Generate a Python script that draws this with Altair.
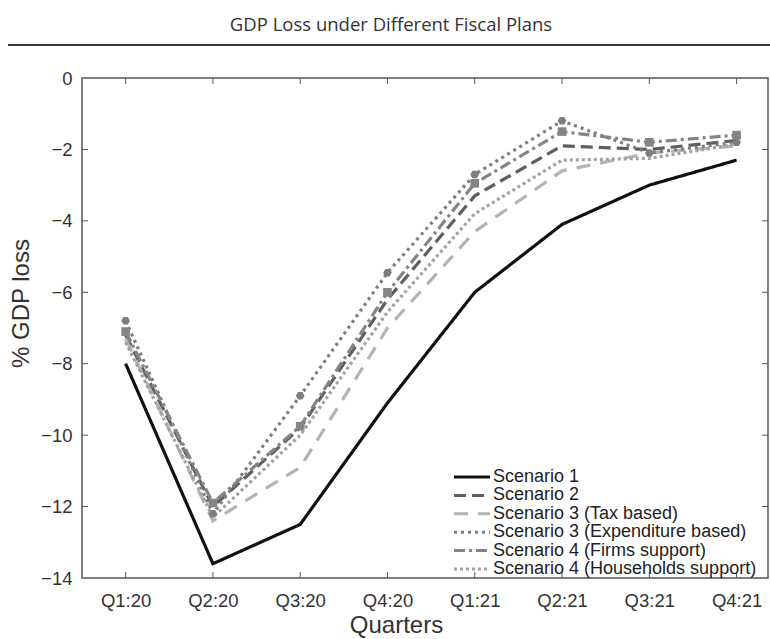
import altair as alt
import pandas as pd

# Quarter labels and the six fiscal scenarios (% GDP loss per quarter)
quarters = ["Q1:20", "Q2:20", "Q3:20", "Q4:20", "Q1:21", "Q2:21", "Q3:21", "Q4:21"]
series_names = [
    "Scenario 1",
    "Scenario 2",
    "Scenario 3 (Tax based)",
    "Scenario 3 (Expenditure based)",
    "Scenario 4 (Firms support)",
    "Scenario 4 (Households support)",
]
scenario_1 = [-8.0, -13.6, -12.5, -9.1, -6.0, -4.1, -3.0, -2.3]
scenario_2 = [-7.2, -12.0, -9.8, -6.2, -3.3, -1.9, -2.0, -1.75]
scenario_3_tax = [-7.3, -12.4, -10.9, -7.0, -4.3, -2.6, -2.1, -1.9]
scenario_3_exp = [-6.8, -12.2, -8.9, -5.45, -2.7, -1.2, -2.1, -1.8]
scenario_4_firms = [-7.1, -11.9, -9.75, -6.0, -2.95, -1.5, -1.8, -1.6]
scenario_4_households = [-7.4, -12.3, -10.0, -6.55, -3.8, -2.3, -2.25, -1.85]

y_ticks = [-14, -12, -10, -8, -6, -4, -2, 0]

colors = ["#111111", "#5e5e5e", "#b4b4b4", "#7e7e7e", "#858585", "#a2a2a2"]
dashes = [[1, 0], [12, 6], [14, 10], [3, 4], [11, 4, 3, 4], [3, 3]]

all_series = [scenario_1, scenario_2, scenario_3_tax, scenario_3_exp,
              scenario_4_firms, scenario_4_households]
rows = []
for name, vals in zip(series_names, all_series):
    for i, v in enumerate(vals):
        rows.append({"scenario": name, "q": i + 1, "loss": v})
df = pd.DataFrame(rows)

W, H = 686, 500
FONT = "Liberation Sans"
label_expr = "[" + ",".join(f"'{q}'" for q in quarters) + "][datum.value - 1]"

x_scale = alt.Scale(domain=[0.5, 8.36], nice=False, zero=False)
y_scale = alt.Scale(domain=[-14, 0], nice=False, zero=False)

x_enc = alt.X(
    "q:Q", scale=x_scale, title="Quarters",
    axis=alt.Axis(values=list(range(1, 9)), labelExpr=label_expr, ticks=False,
                  domain=False, grid=False, labelPadding=13, titlePadding=4,
                  titleX=314, titleAlign="center"),
)
y_enc = alt.Y(
    "loss:Q", scale=y_scale, title="% GDP loss",
    axis=alt.Axis(values=y_ticks, ticks=False, domain=False, grid=False,
                  labelPadding=10, titlePadding=7, titleY=225),
)

# long horizontal stroke used as the legend swatch
legend_line = "M-3,0L3,0"

lines = alt.Chart(df).mark_line(strokeWidth=3.2).encode(
    x=x_enc,
    y=y_enc,
    color=alt.Color(
        "scenario:N",
        scale=alt.Scale(domain=series_names, range=colors),
        legend=alt.Legend(
            title=None, orient="none", legendX=381, legendY=390, padding=0,
            symbolType=legend_line, symbolSize=144, symbolStrokeWidth=3,
            labelFont=FONT, labelFontSize=18, labelColor="#222", labelLimit=0,
            rowPadding=0.4, labelOffset=12,
        ),
    ),
    strokeDash=alt.StrokeDash(
        "scenario:N", scale=alt.Scale(domain=series_names, range=dashes), legend=None
    ),
    order="q:Q",
)

marker_names = [series_names[3], series_names[4]]
hexagon = "M-1,0L-0.5,-0.866L0.5,-0.866L1,0L0.5,0.866L-0.5,0.866Z"
markers = alt.Chart(df[df["scenario"].isin(marker_names)]).mark_point(
    filled=True, size=75, opacity=1
).encode(
    x=alt.X("q:Q", scale=x_scale),
    y=alt.Y("loss:Q", scale=y_scale),
    color=alt.Color("scenario:N", scale=alt.Scale(domain=series_names, range=colors)),
    shape=alt.Shape("scenario:N",
                    scale=alt.Scale(domain=marker_names, range=[hexagon, "square"]),
                    legend=None),
)

# inward-pointing tick marks on all four sides of the box
xt = pd.DataFrame({"q": list(range(1, 9))})
yt = pd.DataFrame({"loss": y_ticks[1:-1]})
tick_style = dict(color="#555", strokeWidth=1)
ticks_bottom = alt.Chart(xt).mark_rule(**tick_style).encode(
    x=alt.X("q:Q", scale=x_scale), y=alt.value(H), y2=alt.value(H - 6))
ticks_top = alt.Chart(xt).mark_rule(**tick_style).encode(
    x=alt.X("q:Q", scale=x_scale), y=alt.value(0), y2=alt.value(6))
ticks_left = alt.Chart(yt).mark_rule(**tick_style).encode(
    y=alt.Y("loss:Q", scale=y_scale), x=alt.value(0), x2=alt.value(6))
ticks_right = alt.Chart(yt).mark_rule(**tick_style).encode(
    y=alt.Y("loss:Q", scale=y_scale), x=alt.value(W), x2=alt.value(W - 6))

# horizontal rule under the title
header_rule = alt.Chart(xt).mark_rule(color="#3a3a3a", strokeWidth=2).encode(
    x=alt.value(-74), x2=alt.value(W + 2), y=alt.value(-33))

chart = alt.layer(
    ticks_bottom, ticks_top, ticks_left, ticks_right, lines, markers, header_rule
).properties(
    width=W,
    height=H,
    title=alt.TitleParams(
        "GDP Loss under Different Fiscal Plans",
        font="Open Sans", fontSize=18.5, fontWeight="normal", color="#333",
        anchor="middle", dx=-34, offset=10,
    ),
    padding={"left": 82, "top": 78, "right": 2, "bottom": 61},
    autosize=alt.AutoSizeParams(type="none"),
).configure(
    background="white"
).configure_view(
    stroke="#555", strokeWidth=1.5
).configure_axis(
    labelFont=FONT, labelFontSize=18.5, labelColor="#333",
    titleFont=FONT, titleFontSize=24, titleColor="#333", titleFontWeight="normal",
)

chart.save("out.html", embed_options={"renderer": "svg", "actions": False})
